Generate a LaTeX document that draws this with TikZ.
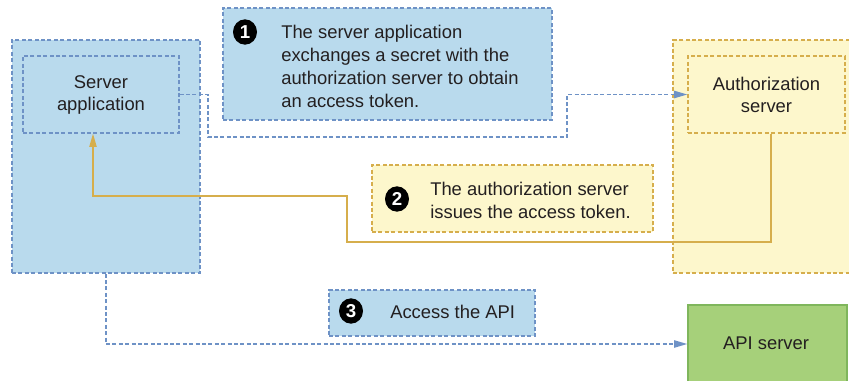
\documentclass[tikz,border=0pt]{standalone}
\usepackage{fontspec}
\setmainfont{Liberation Sans}
\usetikzlibrary{arrows.meta,calc,fit,shapes.geometric}
\definecolor{cblue}{HTML}{B9DAED}
\definecolor{cblueline}{HTML}{6E92C6}
\definecolor{cyellow}{HTML}{FDF7CC}
\definecolor{cgold}{HTML}{D6AE4C}
\definecolor{cgreen}{HTML}{A6D07A}
\definecolor{cgreenline}{HTML}{7FB65C}
\definecolor{ctext}{HTML}{231F20}
\tikzset{
  every picture/.style={x=0.75pt, y=-0.75pt, text=ctext,
    font=\fontsize{13.8}{16.5}\selectfont},
  box/.style={inner sep=0pt, line width=1pt, dash pattern=on 3pt off 1.8pt},
  bluebox/.style={box, draw=cblueline, fill=cblue},
  goldbox/.style={box, draw=cgold, fill=cyellow},
  apibox/.style={inner sep=0pt, line width=1pt, draw=cgreenline, fill=cgreen},
  badge/.style={ellipse, fill=black, text=white, inner sep=0pt,
    minimum width=18pt, minimum height=19pt,
    font=\fontsize{14}{14}\selectfont\bfseries},
  steptext/.style={align=left, anchor=west, inner sep=0pt,
    font=\fontsize{13.8}{17.25}\selectfont},
  flow/.style={line width=1.1pt, draw=cblueline, dash pattern=on 3pt off 1.8pt,
    -{Triangle[length=10pt,width=5.5pt]}},
  token/.style={line width=1pt, draw=cgold, -{Triangle[length=10pt,width=5.5pt]}},
}

\begin{document}
\begin{tikzpicture}
  \useasboundingbox (0,0) rectangle (849,381);
  % hosts
  \node[bluebox, fit={(12,40) (200,273)}] (client) {};
  \node[bluebox, fit={(23,56) (179,133)}] (srv) {};
  \node[align=center] (srvtxt) at (srv) {Server\\application};
  \node[goldbox, fit={(673,40) (856,273)}] (authzone) {};
  \node[goldbox, fit={(688,56) (845,133)}] (auth) {};
  \node[align=center] (authtxt) at (auth) {Authorization\\server};
  \node[apibox, fit={(688,305) (847,383)}] (api) {};
  \node (apitxt) at (766,343) {API server};

  % steps
  \node[bluebox, fit={(223,8) (552,120)}] (stepA) {};
  \node[badge] (badgeA) at (245,32) {1};
  \node[steptext] (textA) at (281,66) {The server application\\exchanges a secret with the\\authorization server to obtain\\an access token.};
  \node[goldbox, fit={(372,165) (653,232)}] (stepB) {};
  \node[badge] (badgeB) at (397,199) {2};
  \node[steptext] (textB) at (430,200) {The authorization server\\issues the access token.};
  \node[bluebox, fit={(329,290) (535,336)}] (stepC) {};
  \node[badge] (badgeC) at (351,311) {3};
  \node[steptext] (textC) at (390,312) {Access the API};

  % flows
  \draw[flow] (srv.east) -- (208,94.5) -- (208,137) -- (567,137) -- (567,94.5) -- (auth.west);
  \draw[token] ($(auth.south)+(4.5,0)$) -- (771,242) -- (347,242) -- (347,196) -- (93,196) -- ($(srv.south)+(-8,0)$);
  \draw[flow] (client.south) -- (client.south |- api.west) -- (api.west);
\end{tikzpicture}
\end{document}
